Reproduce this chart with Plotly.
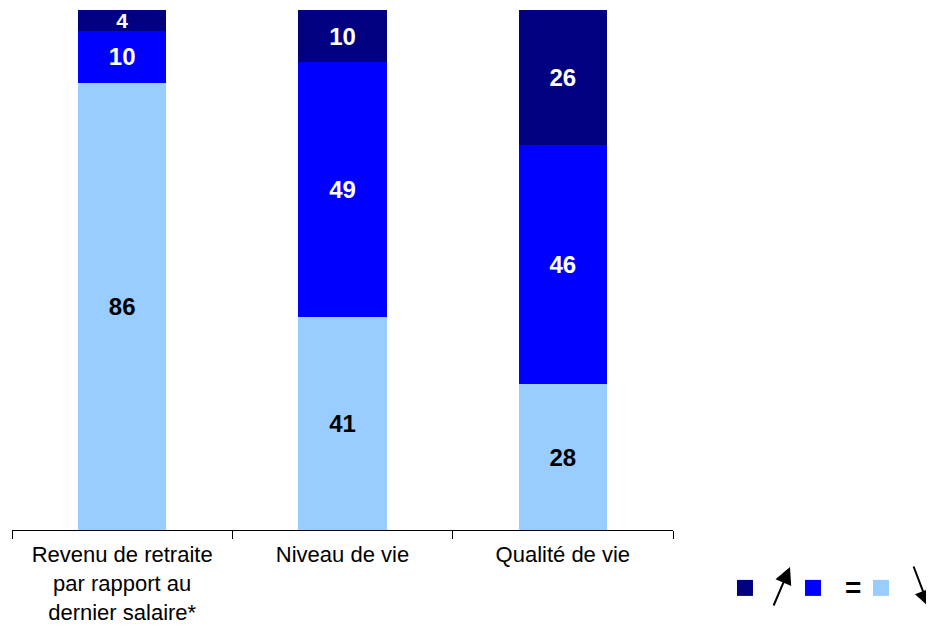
import plotly.graph_objects as go

categories = ["Revenu de retraite<br>par rapport au<br>dernier salaire*", "Niveau de vie", "Qualité de vie"]
baisse = [86, 41, 28]   # light blue  (↘)
stable = [10, 49, 46]   # blue        (=)
hausse = [4, 10, 26]    # navy        (↗)

c_baisse = "#99CCFF"
c_stable = "#0000FF"
c_hausse = "#000080"

FONT = "Arial, Liberation Sans, sans-serif"

# the page body has an 8px margin: figure is drawn at page offset (8, 8)
OFF = 8
W, H = 934 - OFF, 626 - OFF

fig = go.Figure()
for vals, col, tcol in [(baisse, c_baisse, "black"), (stable, c_stable, "white"), (hausse, c_hausse, "white")]:
    sizes = [21 if v < 5 else 24 for v in vals]
    fig.add_trace(go.Bar(
        x=categories, y=vals, marker=dict(color=col, line=dict(width=0)),
        text=[str(v) for v in vals], textposition="inside", insidetextanchor="middle",
        textangle=0, constraintext="none",
        textfont=dict(family=FONT, size=sizes, color=tcol, weight="bold"),
        showlegend=False, hoverinfo="skip", cliponaxis=False,
    ))

# legend swatches (order: navy, blue, light)
for col in [c_hausse, c_stable, c_baisse]:
    fig.add_trace(go.Scatter(
        x=[None], y=[None], mode="markers", name=" ",
        marker=dict(symbol="square", size=16, color=col), showlegend=True,
    ))

def px_x(p):
    return (p - 12) / 661.0

def px_y(p):
    return (530 - p) / 520.0

fig.update_layout(
    width=W, height=H,
    margin=dict(l=12 - OFF, r=W - (673 - OFF), t=10 - OFF, b=H - (530 - OFF), autoexpand=False),
    paper_bgcolor="white", plot_bgcolor="white",
    barmode="stack", bargap=0.6,
    font=dict(family=FONT, size=22, color="black"),
    xaxis=dict(
        showline=True, linecolor="black", linewidth=1,
        ticks="outside", ticklen=8, tickcolor="black", tickwidth=1,
        tickson="boundaries", showgrid=False, zeroline=False, automargin=False,
        tickfont=dict(family=FONT, size=22, color="black"), ticklabelstandoff=5,
    ),
    yaxis=dict(range=[0, 100], visible=False, showgrid=False, zeroline=False, automargin=False),
    showlegend=True,
    legend=dict(
        orientation="h", x=(725 - OFF) / W, y=1 - (588 - OFF) / H, xanchor="left", yanchor="middle",
        xref="container", yref="container", entrywidth=23, entrywidthmode="pixels",
        font=dict(size=16), bgcolor="rgba(0,0,0,0)", traceorder="normal",
    ),
    annotations=[
        dict(xref="paper", yref="paper", x=px_x(790), y=px_y(567), ax=-17, ay=40,
             text="", showarrow=True, arrowhead=2, arrowsize=1.7, arrowwidth=2,
             arrowcolor="black", standoff=0, startstandoff=0),
        dict(xref="paper", yref="paper", x=px_x(929), y=px_y(607), ax=-16, ay=-42,
             text="", showarrow=True, arrowhead=2, arrowsize=1.7, arrowwidth=2,
             arrowcolor="black", standoff=0, startstandoff=0),
        dict(xref="paper", yref="paper", x=px_x(853), y=px_y(587), text="<b>=</b>",
             showarrow=False, font=dict(family=FONT, size=28, color="black"),
             xanchor="center", yanchor="middle"),
    ],
)

fig.write_html("out.html")
